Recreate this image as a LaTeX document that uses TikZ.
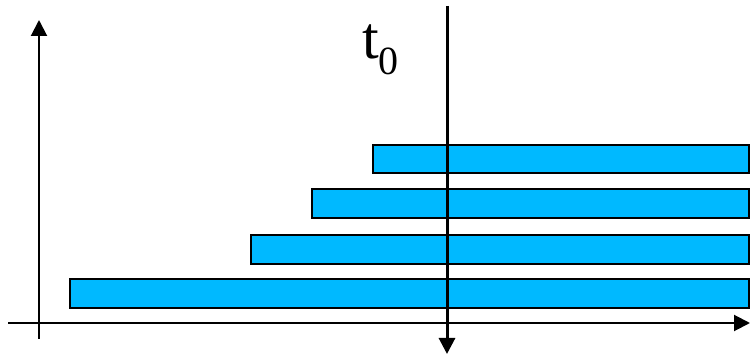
\documentclass[tikz,border=0pt]{standalone}
\usepackage{fontspec}
\setmainfont{Liberation Serif}
\usetikzlibrary{arrows.meta}
\definecolor{barblue}{HTML}{00B9FF}
\tikzset{
  bar/.style={draw=black, line width=2pt, fill=barblue, rectangle, inner sep=0pt, anchor=north west},
  axis/.style={draw=black, line width=2pt, -{Triangle[length=16pt,width=16pt]}},
  tline/.style={draw=black, line width=3pt, -{Triangle[length=16pt,width=16pt]}},
}
\begin{document}
\begin{tikzpicture}[x=1pt,y=-1pt]
\useasboundingbox (0,0) rectangle (750,355);
% bars
\node[bar, minimum width=376pt, minimum height=28pt] (b1) at (372,144) {};
\node[bar, minimum width=437pt, minimum height=29pt] (b2) at (311,188) {};
\node[bar, minimum width=498pt, minimum height=29pt] (b3) at (250,234) {};
\node[bar, minimum width=679pt, minimum height=29pt] (b4) at (69,278) {};
% axes
\coordinate (ya0) at (39,339);
\coordinate (ya1) at (39,20);
\coordinate (xa0) at (8,323);
\coordinate (xa1) at (750,323);
\draw[axis] (ya0) -- (ya1);
\draw[axis] (xa0) -- (xa1);
% t0 line
\coordinate (t0top) at (447,6);
\coordinate (t0bot) at (447,354);
\draw[tline] (t0top) -- (t0bot);
\node[anchor=base west, inner sep=0pt, font=\fontsize{60}{60}\selectfont] (t0) at (362,59) {t\raisebox{-16pt}{\fontsize{40}{40}\selectfont 0}};
\end{tikzpicture}
\end{document}
